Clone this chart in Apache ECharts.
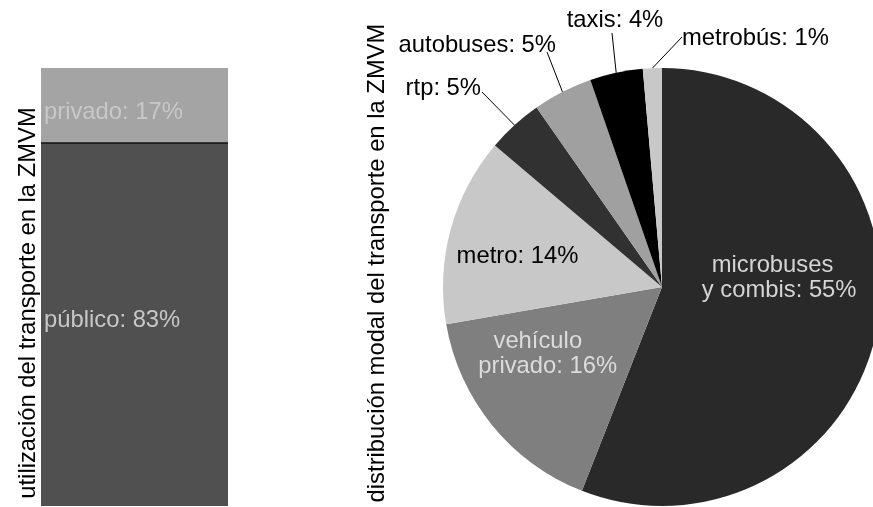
<!DOCTYPE html>
<html>
<head>
<meta charset="utf-8">
<script src="https://cdn.jsdelivr.net/npm/echarts@6/dist/echarts.min.js"></script>
<style>
html,body{margin:0;padding:0;background:#fff;}
#c{width:873px;height:507px;}
</style>
</head>
<body>
<div id="c"></div>
<script>
// ---- data ----
const usoCategories = ['ZMVM'];
const usoNames = ['público', 'privado'];
const usoValues = [83, 17];

const modoNames = ['microbuses\n  y combis', 'vehículo\n   privado', 'metro', 'rtp', 'autobuses', 'taxis', 'metrobús'];
const modoValues = [55.9, 16.3, 13.9, 4.1, 4.4, 3.9, 1.4];
const modoPctLabels = [55, 16, 14, 5, 5, 4, 1];

const titleUso = 'utilización del transporte en la ZMVM';
const titleModo = 'distribución modal del transporte en la ZMVM';

// ---- styles ----
const FONT = "'Liberation Sans', Arial, sans-serif";
const FS = 23.8;
const usoColors = ['#505050', '#a4a4a4'];
const modoColors = ['#292929', '#7f7f7f', '#c8c8c8', '#313131', '#a0a0a0', '#000000', '#c8c8c8'];
const modoInside = {
  0: {color: '#d4d4d4', dx: 0, dy: -30},
  1: {color: '#dcdcdc', dx: -37, dy: -4},
  2: {color: '#000000', dx: -36, dy: -1}
};
const modoOutside = {
  3: {x: 481, y: 88, align: 'right', line: [482, 92]},
  4: {x: 556, y: 45, align: 'right', line: [547, 52]},
  5: {x: 615, y: 20, align: 'center', line: [612, 33]},
  6: {x: 682, y: 38, align: 'left', line: [682, 37]}
};

const chart = echarts.init(document.getElementById('c'), null, {renderer: 'canvas'});

const barSeries = usoNames.map((n, i) => ({
  name: n,
  type: 'bar',
  stack: 'uso',
  barWidth: '100%',
  data: [usoValues[i]],
  itemStyle: {color: usoColors[i]},
  label: {
    show: true,
    position: 'insideLeft',
    distance: 3,
    offset: i === 0 ? [0, -4] : [0, 7],
    formatter: n + ': ' + usoValues[i] + '%',
    color: '#c8c8c8',
    fontFamily: FONT,
    fontSize: FS
  },
  markLine: i === 0 ? {
    silent: true,
    symbol: 'none',
    label: {show: false},
    lineStyle: {color: '#111', width: 1.5, type: 'solid'},
    data: [{yAxis: usoValues[0]}]
  } : undefined
}));

const pieData = modoNames.map((n, i) => {
  const inside = modoInside[i];
  return {
    name: n,
    value: modoValues[i],
    itemStyle: {color: modoColors[i]},
    label: inside ? {position: 'inside', color: inside.color} : {position: 'outside', color: '#000'},
    labelLine: inside ? {show: false} : {show: true, length: 20, length2: 0, lineStyle: {color: '#000', width: 1}}
  };
});

chart.setOption({
  animation: false,
  backgroundColor: '#fff',
  grid: {left: 41, top: 68, width: 187, height: 438},
  xAxis: {type: 'category', data: usoCategories, show: false},
  yAxis: {type: 'value', min: 0, max: 100, show: false},
  graphic: [
    {type: 'text', x: 28, y: 303, rotation: Math.PI / 2,
      style: {text: titleUso, fill: '#000', fontFamily: FONT, fontSize: FS, align: 'center', verticalAlign: 'middle'}},
    {type: 'text', x: 377, y: 263, rotation: Math.PI / 2,
      style: {text: titleModo, fill: '#000', fontFamily: FONT, fontSize: FS, align: 'center', verticalAlign: 'middle'}}
  ],
  series: barSeries.concat([{
    type: 'pie',
    center: [662, 287],
    radius: 219,
    startAngle: 90,
    clockwise: true,
    avoidLabelOverlap: false,
    label: {
      show: true,
      fontFamily: FONT,
      fontSize: FS,
      lineHeight: 25,
      formatter: p => p.name + ': ' + modoPctLabels[p.dataIndex] + '%'
    },
    labelLayout: function (p) {
      const ins = modoInside[p.dataIndex];
      if (ins) return {dx: ins.dx, dy: ins.dy};
      const o = modoOutside[p.dataIndex];
      if (!o) return {};
      const res = {x: o.x, y: o.y, align: o.align, verticalAlign: 'middle'};
      if (p.labelLinePoints && p.labelLinePoints.length) {
        const s = p.labelLinePoints[0];
        res.labelLinePoints = [[s[0], s[1]], o.line, o.line];
      }
      return res;
    },
    data: pieData
  }])
});
</script>
</body>
</html>
